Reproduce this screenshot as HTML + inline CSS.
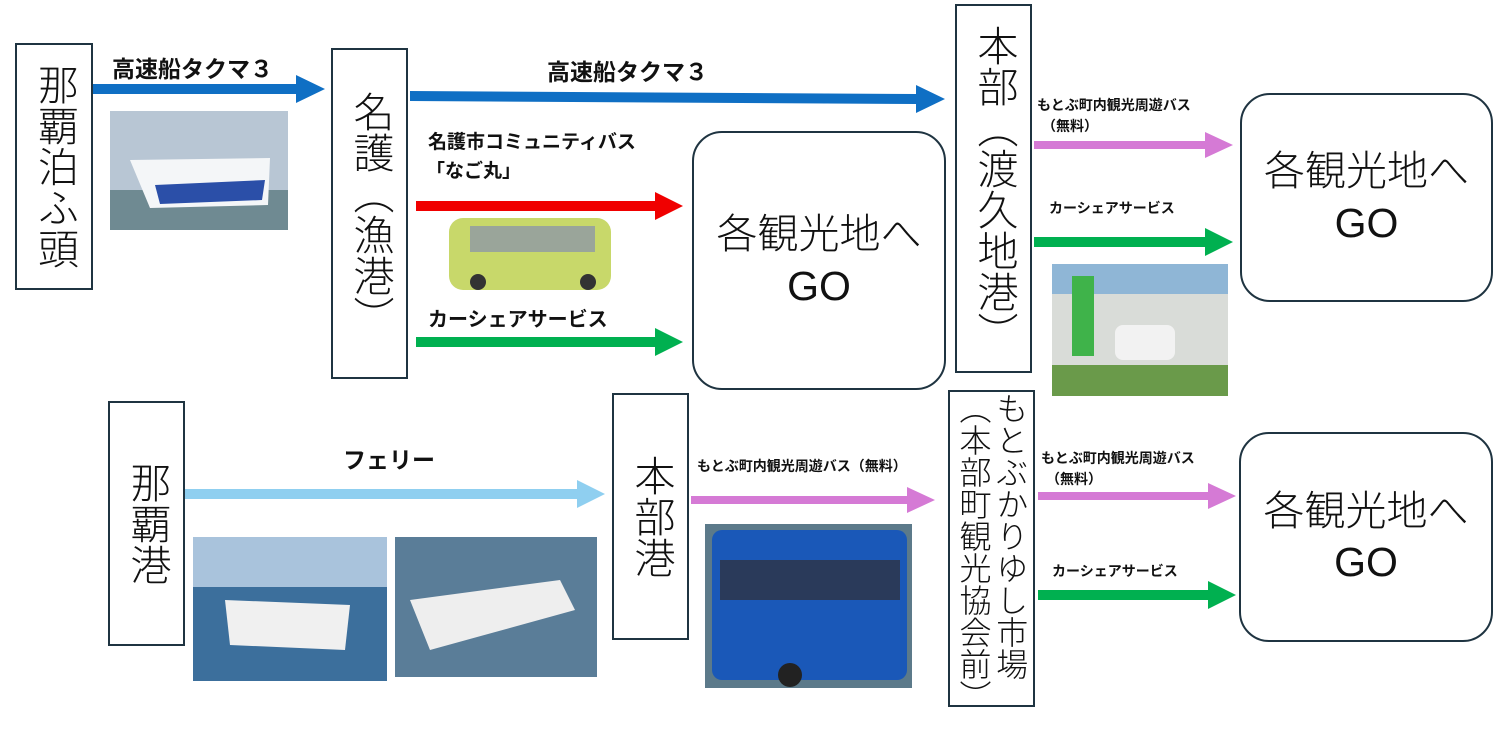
<!DOCTYPE html>
<html><head><meta charset="utf-8"><style>
body{margin:0;width:1500px;height:739px;background:#fff;position:relative;overflow:hidden;font-family:"Liberation Sans","Noto Sans CJK JP",sans-serif}
.b{position:absolute;border:2.5px solid #1f3441;box-sizing:border-box;background:#fff;display:flex;align-items:center;justify-content:center}
.v{writing-mode:vertical-rl;font-size:41px;line-height:1.1;color:#111;font-weight:300;letter-spacing:0}
.go{position:absolute;border:2.5px solid #1f3441;border-radius:30px;box-sizing:border-box;display:flex;flex-direction:column;align-items:center;justify-content:center;text-align:center;font-size:41px;line-height:1.25;color:#111;font-weight:300}
.l{position:absolute;font-weight:bold;color:#111;white-space:nowrap}
</style></head><body>
<svg width="1500" height="739" style="position:absolute;left:0;top:0">
<g>
<polygon points="92,84 296,84 296,75 325,89 296,103 296,94 92,94" fill="#0f6fc4"/>
<polygon points="410,91 916,94 916,85 945,99 916,113 916,104 410,101" fill="#0f6fc4"/>
<polygon points="416,201 655,201 655,192 683,206 655,220 655,211 416,211" fill="#f00000"/>
<polygon points="416,337 655,337 655,328 683,342 655,356 655,347 416,347" fill="#00b050"/>
<polygon points="1034,141 1205,141 1205,132 1233,145 1205,158 1205,149 1034,149" fill="#d57ad5"/>
<polygon points="1034,237 1205,237 1205,228 1233,242 1205,256 1205,247 1034,247" fill="#00b050"/>
<polygon points="185,489 577,489 577,480 605,494 577,508 577,499 185,499" fill="#8fcff0"/>
<polygon points="691,496 907,496 907,487 935,500 907,513 907,504 691,504" fill="#d57ad5"/>
<polygon points="1038,492 1208,492 1208,483 1236,496 1208,509 1208,500 1038,500" fill="#d57ad5"/>
<polygon points="1038,590 1208,590 1208,581 1236,595 1208,609 1208,600 1038,600" fill="#00b050"/>
</g>
<rect x="110" y="111" width="178" height="119" fill="#b8c6d4"/>
<rect x="110" y="190" width="178" height="40" fill="#6f8a92"/>
<path d="M130 160 L270 158 L268 205 L150 208 Z" fill="#f4f6f8"/>
<path d="M155 185 L265 180 L262 200 L160 204 Z" fill="#2b4fa8"/>
<rect x="449" y="218" width="162" height="72" rx="14" fill="#c8d86a"/>
<rect x="470" y="226" width="125" height="26" fill="#9aa59a"/>
<circle cx="478" cy="282" r="8" fill="#333"/><circle cx="588" cy="282" r="8" fill="#333"/>
<rect x="1052" y="264" width="176" height="132" fill="#d9dcd8"/>
<rect x="1052" y="264" width="176" height="30" fill="#8fb6d6"/>
<rect x="1052" y="365" width="176" height="31" fill="#6a9a4a"/>
<rect x="1072" y="276" width="22" height="80" fill="#3fb34a"/>
<rect x="1115" y="325" width="60" height="35" rx="8" fill="#f2f2f2"/>
<rect x="193" y="537" width="194" height="144" fill="#3c6f9c"/>
<rect x="193" y="537" width="194" height="50" fill="#a9c3dc"/>
<path d="M225 600 L350 605 L345 650 L230 645 Z" fill="#f0f0f0"/>
<rect x="395" y="537" width="202" height="140" fill="#5a7d98"/>
<path d="M410 600 L560 580 L575 610 L430 650 Z" fill="#eeeeee"/>
<rect x="705" y="524" width="207" height="164" fill="#5c7a8a"/>
<rect x="712" y="530" width="195" height="150" rx="10" fill="#1a58b8"/>
<rect x="720" y="560" width="180" height="40" fill="#2a3a5a"/>
<circle cx="790" cy="675" r="12" fill="#222"/>
</svg>

<div class="b" style="left:15px;top:43px;width:78px;height:247px"><span class="v">那覇泊ふ頭</span></div>
<div class="b" style="left:331px;top:48px;width:77px;height:331px"><span class="v">名護（漁港）</span></div>
<div class="b" style="left:955px;top:4px;width:77px;height:369px"><span class="v">本部（渡久地港）</span></div>
<div class="b" style="left:108px;top:401px;width:77px;height:245px"><span class="v">那覇港</span></div>
<div class="b" style="left:612px;top:393px;width:77px;height:247px"><span class="v">本部港</span></div>
<div class="b" style="left:948px;top:390px;width:87px;height:317px"><span class="v" style="font-size:32px;line-height:1.15">もとぶかりゆし市場（本部町観光協会前）</span></div>

<div class="go" style="left:692px;top:131px;width:254px;height:259px"><div>各観光地へ</div><div>GO</div></div>
<div class="go" style="left:1240px;top:93px;width:253px;height:209px"><div>各観光地へ</div><div>GO</div></div>
<div class="go" style="left:1239px;top:432px;width:254px;height:210px"><div>各観光地へ</div><div>GO</div></div>

<div class="l" style="left:112px;top:50px;font-size:23px">高速船タクマ３</div>
<div class="l" style="left:547px;top:53px;font-size:23px">高速船タクマ３</div>
<div class="l" style="left:428px;top:127px;font-size:19px">名護市コミュニティバス</div>
<div class="l" style="left:426px;top:156px;font-size:19px">「なご丸」</div>
<div class="l" style="left:428px;top:303px;font-size:20px">カーシェアサービス</div>
<div class="l" style="left:1037px;top:95px;font-size:14px">もとぶ町内観光周遊バス</div>
<div class="l" style="left:1042px;top:116px;font-size:14px">（無料）</div>
<div class="l" style="left:1049px;top:198px;font-size:14px">カーシェアサービス</div>
<div class="l" style="left:343px;top:441px;font-size:23px">フェリー</div>
<div class="l" style="left:697px;top:456px;font-size:14px">もとぶ町内観光周遊バス（無料）</div>
<div class="l" style="left:1041px;top:448px;font-size:14px">もとぶ町内観光周遊バス</div>
<div class="l" style="left:1046px;top:469px;font-size:14px">（無料）</div>
<div class="l" style="left:1052px;top:561px;font-size:14px">カーシェアサービス</div>
</body></html>
